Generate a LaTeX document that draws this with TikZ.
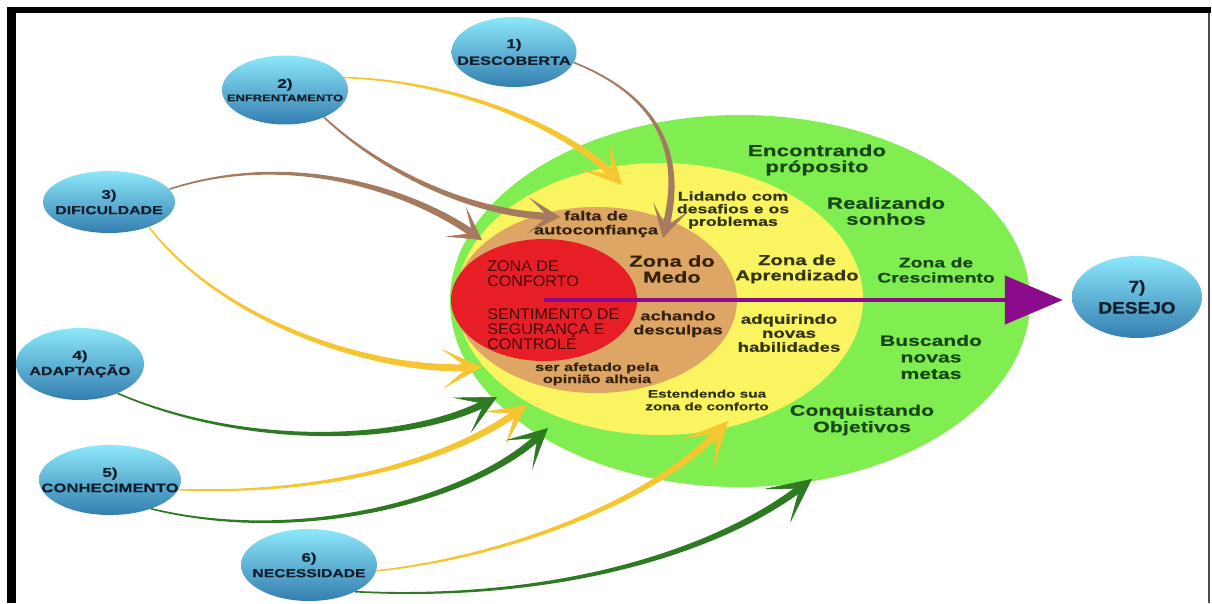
\documentclass[tikz,border=0pt]{standalone}
\usepackage{fontspec}
\setmainfont{Liberation Sans}
\newfontfamily\widefont[FakeStretch=1.4, FakeBold=0.6]{Liberation Sans}
\newfontfamily\bluefont[FakeStretch=1.35, FakeBold=0.5]{Liberation Sans}
\newfontfamily\redfont[FakeStretch=1.05]{Liberation Sans}
\newfontfamily\goalfont[FakeStretch=1.15, FakeBold=0.5]{Liberation Sans}
\usetikzlibrary{shapes.geometric,arrows.meta,calc}

% zone fills
\definecolor{zgreen}{RGB}{128,238,80}
\definecolor{zyellow}{RGB}{250,244,96}
\definecolor{ztan}{RGB}{222,166,100}
\definecolor{zred}{RGB}{232,30,38}
% text colours
\definecolor{tgreen}{RGB}{24,70,24}
\definecolor{tolive}{RGB}{52,52,16}
\definecolor{tbrown}{RGB}{52,34,16}
\definecolor{tred}{RGB}{62,8,8}
\definecolor{bluetext}{RGB}{16,30,44}
% connector colours
\definecolor{abrown}{RGB}{166,122,94}
\definecolor{ayellow}{RGB}{246,197,50}
\definecolor{agreen}{RGB}{46,122,34}
\definecolor{apurple}{RGB}{140,10,140}
% bubble shading
\definecolor{bluetop}{RGB}{140,232,250}
\definecolor{bluebot}{RGB}{52,126,176}

% tapered curved connector: colour, start, control 1, control 2, tip, tip style
\newcommand\taperarrow[6]{%
  \coordinate (tpback) at ($(#5)!9pt!(#4)$);
  \fill[#1] ($(#2)!0.6pt!90:(#3)$)
    .. controls ($(#3)!1.2pt!90:(#4)$) and ($(#4)!2.3pt!90:(tpback)$)
    .. ($(tpback)!2.7pt!-90:(#4)$)
    -- ($(tpback)!2.7pt!90:(#4)$)
    .. controls ($(#4)!2.3pt!-90:(tpback)$) and ($(#3)!1.2pt!-90:(#4)$)
    .. ($(#2)!0.6pt!-90:(#3)$) -- cycle;
  \draw[draw=#1, line width=0.4pt, #6] (tpback) -- (#5);
}

\begin{document}
\begin{tikzpicture}[x=0.75pt,y=-0.75pt,
  zone/.style={ellipse, inner sep=0pt, draw=none},
  bubble/.style={ellipse, inner sep=0pt, draw=none,
    top color=bluetop, bottom color=bluebot},
  btext/.style={align=center, inner sep=0pt, text=bluetext},
  gtext/.style={align=center, inner sep=0pt, text=tgreen},
  ytext/.style={align=center, inner sep=0pt, text=tolive},
  ttext/.style={align=center, inner sep=0pt, text=tbrown},
  rtext/.style={align=left, inner sep=0pt, text=tred, anchor=west,
    font=\redfont\fontsize{11.5}{11.3}\selectfont},
  browntip/.style={-{Stealth[length=24pt, width=27pt, inset=15pt]}},
  tip/.style={-{Stealth[length=30pt, width=30pt, inset=19pt]}},
  bigtip/.style={-{Stealth[length=34pt, width=33pt, inset=22pt]}},
  purplearr/.style={line width=3.4pt, draw=apurple,
    -{Triangle[length=43.5pt, width=36pt]}, shorten >=6.75pt}
]
\useasboundingbox (0,0) rectangle (1212,603);

% frame
\fill[black] (7,7) rectangle (1211,13);
\fill[black] (7,7) rectangle (16,603);
\draw[black!70, line width=0.9pt] (1209,13) -- (1209,603);

% nested zones
\node[zone, fill=zgreen,  minimum width=435pt,   minimum height=279pt] (outer)   at (740,301) {};
\node[zone, fill=zyellow, minimum width=304.5pt, minimum height=204pt] (learn)   at (660,299) {};
\node[zone, fill=ztan,    minimum width=211.5pt, minimum height=139.5pt] (fear)  at (596,300) {};
\node[zone, fill=zred,    minimum width=139.5pt, minimum height=91.5pt] (comfort) at (544,300) {};

% stages
\node[bubble, minimum width=93.75pt, minimum height=52.5pt] (n1) at (514,52) {};
\node[bubble, minimum width=94.5pt,  minimum height=51.75pt] (n2) at (285,90) {};
\node[bubble, minimum width=99pt,    minimum height=46.5pt] (n3) at (109,202) {};
\node[bubble, minimum width=96pt,    minimum height=54pt] (n4) at (80,364) {};
\node[bubble, minimum width=106.5pt, minimum height=52.5pt] (n5) at (110,480) {};
\node[bubble, minimum width=102pt,   minimum height=54pt] (n6) at (309,565) {};
\node[bubble, minimum width=97.5pt,  minimum height=61.5pt] (n7) at (1137,297) {};

\node[btext, font=\bluefont\bfseries\fontsize{9.5}{12.5}\selectfont] (l1) at (n1)
  {1)\\{\fontsize{9.1}{12.5}\selectfont DESCOBERTA}};
\node[btext, font=\bluefont\bfseries\fontsize{9.5}{10}\selectfont] (l2) at (n2)
  {2)\\{\fontsize{7.2}{10}\selectfont ENFRENTAMENTO}};
\node[btext, font=\bluefont\bfseries\fontsize{9.5}{11.5}\selectfont] (l3) at (n3)
  {3)\\{\fontsize{8.8}{11.5}\selectfont DIFICULDADE}};
\node[btext, font=\bluefont\bfseries\fontsize{9.5}{11.5}\selectfont] (l4) at (n4)
  {4)\\{\fontsize{8.9}{11.5}\selectfont ADAPTAÇÃO}};
\node[btext, font=\bluefont\bfseries\fontsize{9.5}{11.5}\selectfont] (l5) at (n5)
  {5)\\{\fontsize{9.3}{11.5}\selectfont CONHECIMENTO}};
\node[btext, font=\bluefont\bfseries\fontsize{9.5}{11.5}\selectfont] (l6) at (n6)
  {6)\\{\fontsize{8.7}{11.5}\selectfont NECESSIDADE}};
\node[btext, font=\goalfont\bfseries\fontsize{12.4}{16}\selectfont] (l7) at (n7)
  {7)\\DESEJO};

% connector ends
\coordinate (e1) at (663,238);
\coordinate (e2) at (560,217);
\coordinate (e3) at (482,240);
\coordinate (e4) at (622,185);
\coordinate (e5) at (482,367);
\coordinate (e6) at (497,397);
\coordinate (e7) at (527,405);
\coordinate (e8) at (548,428);
\coordinate (e9) at (728,421);
\coordinate (e10) at (812,479);

% brown connectors
\taperarrow{abrown}{n1.-10}{655,95}{685,150}{e1}{browntip}
\taperarrow{abrown}{n2.-35}{375,165}{460,212}{e2}{browntip}
\taperarrow{abrown}{n3.12}{290,150}{410,190}{e3}{browntip}
% yellow connectors
\taperarrow{ayellow}{n2.12}{470,82}{575,135}{e4}{tip}
\taperarrow{ayellow}{n3.-32}{220,320}{370,372}{e5}{tip}
\taperarrow{ayellow}{n5.-8}{330,495}{450,460}{e7}{tip}
\taperarrow{ayellow}{n6.-5}{520,555}{660,495}{e9}{bigtip}
% green connectors
\taperarrow{agreen}{n4.-38}{250,450}{410,442}{e6}{tip}
\taperarrow{agreen}{n5.-35}{300,545}{470,500}{e8}{tip}
\taperarrow{agreen}{n6.-30}{560,602}{720,550}{e10}{bigtip}

% growth direction
\draw[purplearr] (comfort.center) -- (comfort.center -| n7.west);

% growth zone texts
\node[gtext, font=\widefont\bfseries\fontsize{12}{12}\selectfont] (t1) at (817,160) {Encontrando\\próposito};
\node[gtext, font=\widefont\bfseries\fontsize{12}{12}\selectfont] (t2) at (886,211) {Realizando\\sonhos};
\node[gtext, font=\widefont\bfseries\fontsize{10.4}{11.3}\selectfont] (t3) at (936,270) {Zona de\\Crescimento};
\node[gtext, font=\widefont\bfseries\fontsize{11.3}{12.4}\selectfont] (t4) at (931,357) {Buscando\\novas\\metas};
\node[gtext, font=\widefont\bfseries\fontsize{11.5}{12.4}\selectfont] (t5) at (862,420) {Conquistando\\Objetivos};

% learning zone texts
\node[ytext, font=\widefont\bfseries\fontsize{9.5}{9.5}\selectfont] (t6) at (733,210) {Lidando com\\desafios e os\\problemas};
\node[ytext, font=\widefont\bfseries\fontsize{10.9}{11.5}\selectfont] (t7) at (797,269) {Zona de\\Aprendizado};
\node[ytext, font=\widefont\bfseries\fontsize{10}{10.5}\selectfont] (t8) at (789,333) {adquirindo\\novas\\habilidades};
\node[ytext, font=\widefont\bfseries\fontsize{8.2}{9.5}\selectfont] (t9) at (707,400) {Estendendo sua\\zona de conforto};

% fear zone texts
\node[ttext, font=\widefont\bfseries\fontsize{9.8}{10.5}\selectfont] (t10) at (596,224) {falta de\\autoconfiança};
\node[ttext, font=\widefont\bfseries\fontsize{11.8}{12}\selectfont] (t11) at (672,269) {Zona do\\Medo};
\node[ttext, font=\widefont\bfseries\fontsize{9.8}{10.5}\selectfont] (t12) at (678,324) {achando\\desculpas};
\node[ttext, font=\widefont\bfseries\fontsize{8.7}{9}\selectfont] (t13) at (597,374) {ser afetado pela\\opinião alheia};

% comfort zone texts
\node[rtext] (t14) at (487,274) {ZONA DE\\CONFORTO};
\node[rtext] (t15) at (487,329) {SENTIMENTO DE\\SEGURANÇA E\\CONTROLE};
\end{tikzpicture}
\end{document}
